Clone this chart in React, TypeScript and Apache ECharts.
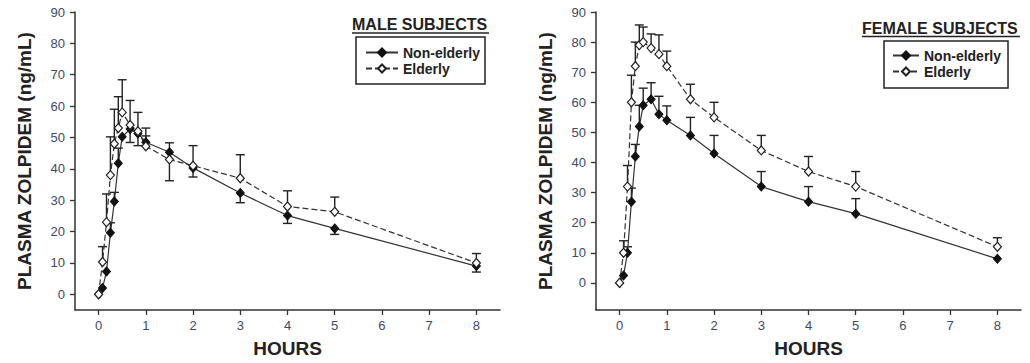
import React, { useEffect, useRef } from "react";
import * as echarts from "echarts";

const hours = [0, 0.083, 0.167, 0.25, 0.333, 0.417, 0.5, 0.667, 0.833, 1, 1.5, 2, 3, 4, 5, 8];
const xTicks = [0, 1, 2, 3, 4, 5, 6, 7, 8];
const yTicks = [0, 10, 20, 30, 40, 50, 60, 70, 80, 90];

const maleNonElderly = [0, 2, 7.3, 19.6, 29.6, 41.8, 50.2, 52.7, 51.3, 48.5, 45.3, 40.3, 32.3, 25.1, 21, 9];
const maleElderly = [0, 10.3, 23, 38, 48, 53, 58, 54, 52, 47.2, 43, 41, 37, 28, 26.3, 10];
const maleNonElderlyErr = [null, null, null, 22.8, 32.5, 46.6, null, 48.4, 47.4, 50.5, 48.3, 37.4, 29.2, 22.6, 19.1, 7.1];
const maleElderlyErr = [null, 15.2, 32, 50.2, 59, 63, 68.4, 61.8, 58, 53, 36.2, 47.4, 44.5, 33, 31, 13];

const femaleNonElderly = [0, 2.5, 10, 27, 42, 52, 59, 61, 56, 54, 49, 43, 32, 27, 23, 8];
const femaleElderly = [0, 10, 32, 60, 72, 79, 80, 78, 76, 72, 61, 55, 44, 37, 32, 12];
const femaleNonElderlyErr = [null, null, 12, 31.5, 46, 59, 64.7, 66.5, 62, 58.8, 55, 49, 37, 32, 28, null];
const femaleElderlyErr = [null, 14, 39, 69, 80, 85.7, 85, 82.7, 82.4, 77, 66, 60, 49, 42, 37, 15];

const FONT = "Liberation Sans, Arial, Helvetica, sans-serif";
const INK = "#222";
const TICK_TEXT = "#3f4a63";

function pts(vals: number[]) {
  return hours.map((t, i) => [t, vals[i]]);
}

function errData(vals: number[], caps: (number | null)[]) {
  const out: number[][] = [];
  hours.forEach((t, i) => {
    const c = caps[i];
    if (c !== null && c !== undefined) out.push([t, vals[i], c]);
  });
  return out;
}

function errSeries(idx: number, name: string, vals: number[], caps: (number | null)[]) {
  return {
    type: "custom",
    name,
    xAxisIndex: idx,
    yAxisIndex: idx,
    z: 1,
    silent: true,
    encode: { x: 0, y: [1, 2] },
    data: errData(vals, caps),
    renderItem: (_p: any, api: any) => {
      const p0 = api.coord([api.value(0), api.value(1)]);
      const p1 = api.coord([api.value(0), api.value(2)]);
      return {
        type: "group",
        children: [
          { type: "line", shape: { x1: p0[0], y1: p0[1], x2: p1[0], y2: p1[1] }, style: { stroke: INK, lineWidth: 1.4 } },
          { type: "line", shape: { x1: p1[0] - 4.5, y1: p1[1], x2: p1[0] + 4.5, y2: p1[1] }, style: { stroke: INK, lineWidth: 1.4 } },
        ],
      };
    },
  };
}

function lineSeries(idx: number, name: string, vals: number[], open: boolean) {
  return {
    type: "line",
    name,
    xAxisIndex: idx,
    yAxisIndex: idx,
    z: 3,
    data: pts(vals),
    symbol: "diamond",
    symbolSize: [8, 9],
    showAllSymbol: true,
    lineStyle: { color: "#333", width: 1.2, type: open ? [6, 3] : "solid" },
    itemStyle: open
      ? { color: "#fff", borderColor: INK, borderWidth: 1.2 }
      : { color: "#111", borderColor: "#111", borderWidth: 1 },
  };
}

function xAxis(idx: number) {
  return {
    type: "value",
    gridIndex: idx,
    min: -0.5,
    max: 8.5,
    name: "HOURS",
    nameLocation: "middle",
    nameGap: 29,
    nameTextStyle: { fontFamily: FONT, fontWeight: "bold", fontSize: 19, color: INK },
    axisLine: { show: true, onZero: false, lineStyle: { color: "#333", width: 1.5 } },
    axisTick: { show: true, length: 5, customValues: xTicks, lineStyle: { color: "#333", width: 1.3 } },
    axisLabel: { customValues: xTicks, margin: 9, fontFamily: FONT, fontSize: 13, color: TICK_TEXT },
    splitLine: { show: false },
  };
}

function yAxis(idx: number, min: number) {
  return {
    type: "value",
    gridIndex: idx,
    min,
    max: 90,
    name: "PLASMA ZOLPIDEM (ng/mL)",
    nameLocation: "middle",
    nameGap: 41,
    nameTextStyle: { fontFamily: FONT, fontWeight: "bold", fontSize: 19, color: INK },
    axisLine: { show: true, onZero: false, lineStyle: { color: "#333", width: 1.5 } },
    axisTick: { show: true, length: 5, customValues: yTicks, lineStyle: { color: "#333", width: 1.3 } },
    axisLabel: { customValues: yTicks, margin: 10, fontFamily: FONT, fontSize: 13, color: TICK_TEXT },
    splitLine: { show: false },
  };
}

function legend(left: number, top: number, itemWidth: number, padding: number[]) {
  return {
    orient: "vertical",
    left,
    top,
    data: ["Non-elderly", "Elderly"],
    itemWidth,
    itemHeight: 10,
    itemGap: 1,
    padding,
    borderColor: INK,
    borderWidth: 1.5,
    selectedMode: false,
    textStyle: { fontFamily: FONT, fontWeight: "bold", fontSize: 14, color: INK, lineHeight: 15 },
  };
}

export default function App() {
  const ref = useRef<HTMLDivElement>(null);
  useEffect(() => {
    if (!ref.current) return;
    const chart = echarts.init(ref.current, null, { renderer: "svg" });
    chart.setOption({
      animation: false,
      backgroundColor: "#fff",
      grid: [
        { left: 75, top: 12, width: 425, height: 299 },
        { left: 596, top: 12, width: 425, height: 299 },
      ],
      xAxis: [xAxis(0), xAxis(1)],
      yAxis: [yAxis(0, -5), yAxis(1, -9)],
      legend: [
        legend(356, 37, 32, [8, 5, 8, 9]),
        legend(884, 41, 26, [7, 7, 9, 8]),
      ],
      graphic: [
        { type: "text", left: 352, top: 16, style: { text: "MALE SUBJECTS", font: `bold 16px ${FONT}`, fill: INK } },
        { type: "line", shape: { x1: 352, y1: 33, x2: 489, y2: 33 }, style: { stroke: INK, lineWidth: 1.5 } },
        { type: "text", left: 862, top: 20, style: { text: "FEMALE SUBJECTS", font: `bold 16px ${FONT}`, fill: INK } },
        { type: "line", shape: { x1: 862, y1: 36.5, x2: 1020, y2: 36.5 }, style: { stroke: INK, lineWidth: 1.5 } },
      ],
      series: [
        errSeries(0, "Male non-elderly SE", maleNonElderly, maleNonElderlyErr),
        errSeries(0, "Male elderly SE", maleElderly, maleElderlyErr),
        errSeries(1, "Female non-elderly SE", femaleNonElderly, femaleNonElderlyErr),
        errSeries(1, "Female elderly SE", femaleElderly, femaleElderlyErr),
        lineSeries(0, "Non-elderly", maleNonElderly, false),
        lineSeries(0, "Elderly", maleElderly, true),
        lineSeries(1, "Non-elderly", femaleNonElderly, false),
        lineSeries(1, "Elderly", femaleElderly, true),
      ],
    });
    return () => chart.dispose();
  }, []);
  return (
    <div
      ref={ref}
      style={{ position: "absolute", left: 0, top: 0, width: 1030, height: 363 }}
    />
  );
}
